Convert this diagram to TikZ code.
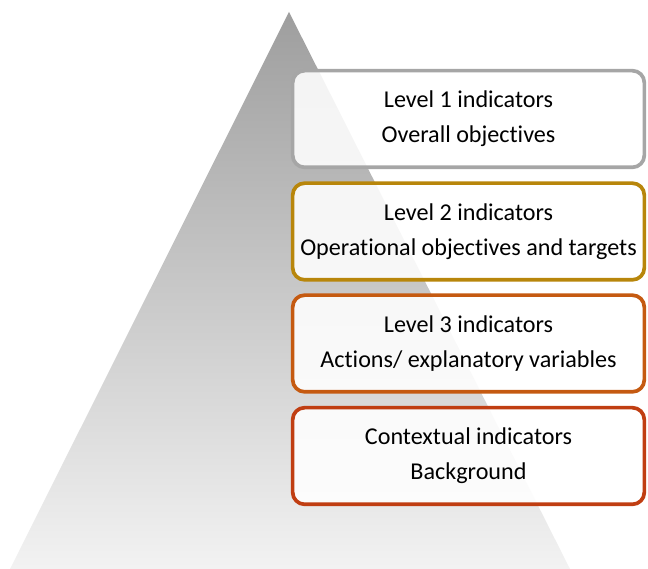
\documentclass[tikz,border=0pt]{standalone}
\usepackage{fontspec}
\setmainfont[Ligatures=NoCommon]{Carlito}
\definecolor{levelgray}{RGB}{166,166,166}
\definecolor{levelgold}{RGB}{184,134,11}
\definecolor{levelorange}{RGB}{197,90,17}
\definecolor{levelred}{RGB}{192,62,18}
\tikzset{
	levelbox/.style={draw=#1, line width=1.1mm, rounded corners=3.6mm, fill=white, fill opacity=0.88, text opacity=1,
		minimum width=10.55cm, minimum height=2.9cm, align=center,
		font=\fontsize{20.6}{30}\selectfont}
}
\begin{document}
\begin{tikzpicture}[x=0.03cm, y=0.03cm]
			\useasboundingbox (0,0) rectangle (648,569);
			\shade[top color=black!38, middle color=black!27, bottom color=black!5]
			(10,0) -- (289,557) -- (570,0) -- cycle;
			
			\node	(l1) at (468.5,450) [levelbox=levelgray] {Level 1 indicators\\Overall objectives};
			\node	(l2) at (468.5,337.5) [levelbox=levelgold] {Level 2 indicators\\Operational objectives and targets};
			\node	(l3) at (468.5,225.5) [levelbox=levelorange] {Level 3 indicators\\Actions/ explanatory variables};
			\node	(ctx) at (468.5,113) [levelbox=levelred] {Contextual indicators\\Background};
		\end{tikzpicture}
\end{document}
